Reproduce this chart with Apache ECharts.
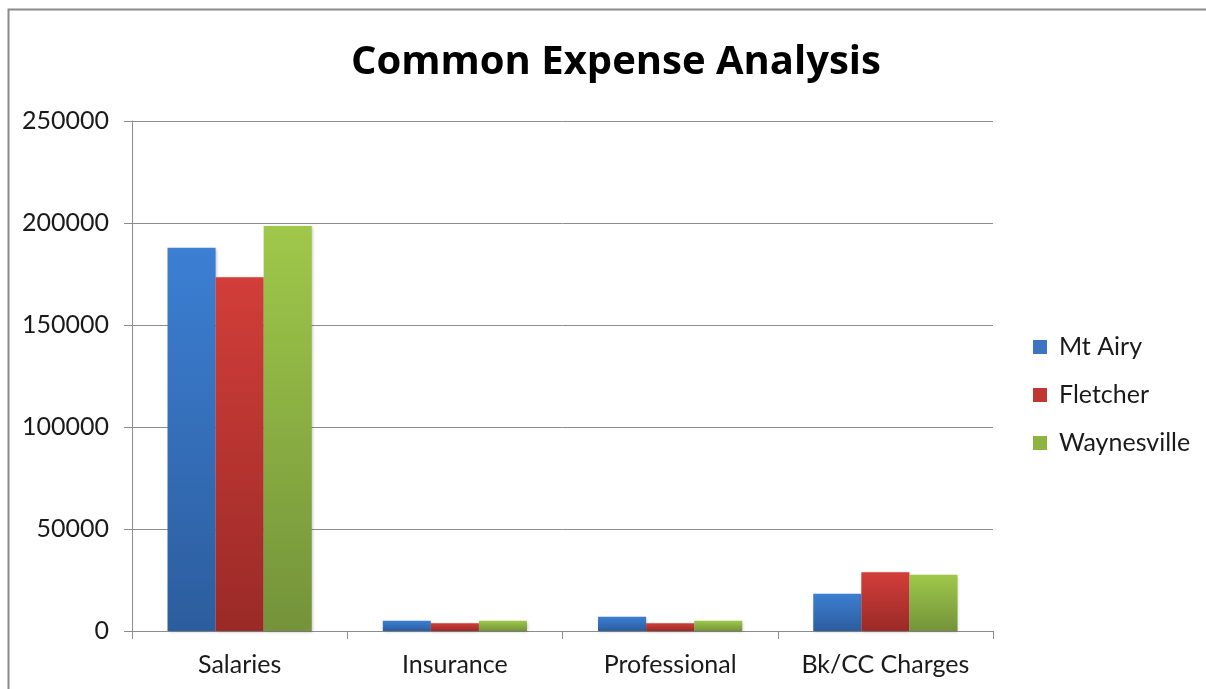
<!DOCTYPE html>
<html>
<head>
<meta charset="utf-8">
<style>
  html, body { margin: 0; padding: 0; background: #ffffff; }
  #chart { width: 1206px; height: 689px; }
</style>
<script src="https://cdn.jsdelivr.net/npm/echarts@6/dist/echarts.min.js"></script>
</head>
<body>
<div id="chart"></div>
<script>
// Expense categories and per-location totals
const categories = ['Salaries', 'Insurance', 'Professional', 'Bk/CC Charges'];
const mtAiry = [187900, 5000, 7000, 18300];
const fletcher = [173400, 3800, 3800, 28800];
const waynesville = [198500, 5000, 5000, 27600];
const seriesNames = ['Mt Airy', 'Fletcher', 'Waynesville'];

const FONT = 'Lato, "Open Sans", sans-serif';

function grad(top, bottom) {
  return new echarts.graphic.LinearGradient(0, 0, 0, 1, [
    { offset: 0, color: top },
    { offset: 1, color: bottom }
  ]);
}

function barSeries(name, data, top, bottom) {
  return {
    name: name,
    type: 'bar',
    data: data,
    barGap: '0%',
    barCategoryGap: '33%',
    itemStyle: {
      color: grad(top, bottom),
      shadowColor: 'rgba(0,0,0,0.25)',
      shadowBlur: 3,
      shadowOffsetX: 1,
      shadowOffsetY: 1
    },
    emphasis: { disabled: true }
  };
}

const chart = echarts.init(document.getElementById('chart'));
chart.setOption({
  animation: false,
  title: {
    text: 'Common Expense Analysis',
    left: 611,
    textAlign: 'center',
    top: 38,
    textStyle: { fontFamily: '"Open Sans", Lato, sans-serif', fontSize: 40, fontWeight: 'bold', color: '#000000' }
  },
  legend: {
    orient: 'vertical',
    left: 1033,
    top: 333,
    padding: 0,
    itemWidth: 14,
    itemHeight: 14,
    itemGap: 20,
    icon: 'rect',
    data: [
      { name: 'Mt Airy', itemStyle: { color: '#3a74c2' } },
      { name: 'Fletcher', itemStyle: { color: '#bf3733' } },
      { name: 'Waynesville', itemStyle: { color: '#8db440' } }
    ],
    textStyle: { fontFamily: FONT, fontSize: 25, lineHeight: 28, color: '#1a1a1a', padding: [0, 0, 0, 7] }
  },
  grid: { left: 132, top: 121, width: 861, height: 510 },
  xAxis: {
    type: 'category',
    data: categories,
    axisLine: { lineStyle: { color: '#8c8c8c', width: 1 } },
    axisTick: { show: true, length: 8, lineStyle: { color: '#8c8c8c' } },
    axisLabel: { interval: 0, fontFamily: FONT, fontSize: 25, color: '#1a1a1a', margin: 21 }
  },
  yAxis: {
    type: 'value',
    min: 0,
    max: 250000,
    interval: 50000,
    axisLine: { show: true, lineStyle: { color: '#8c8c8c' } },
    axisTick: { show: true, length: 8, lineStyle: { color: '#8c8c8c' } },
    axisLabel: {
      fontFamily: FONT, fontSize: 25, color: '#1a1a1a', margin: 23,
      formatter: function (v) { return String(v); }
    },
    splitLine: { lineStyle: { color: '#8c8c8c', width: 1 } }
  },
  series: [
    barSeries(seriesNames[0], mtAiry, '#3c7fd3', '#2c5d9e'),
    barSeries(seriesNames[1], fletcher, '#d23e39', '#9a2a27'),
    barSeries(seriesNames[2], waynesville, '#9fc84a', '#74933a')
  ],
  graphic: [
    {
      type: 'rect',
      shape: { x: 8.5, y: 9.5, width: 1300, height: 800 },
      style: { fill: 'none', stroke: '#8a8a8a', lineWidth: 2 },
      silent: true
    }
  ]
});
</script>
</body>
</html>
